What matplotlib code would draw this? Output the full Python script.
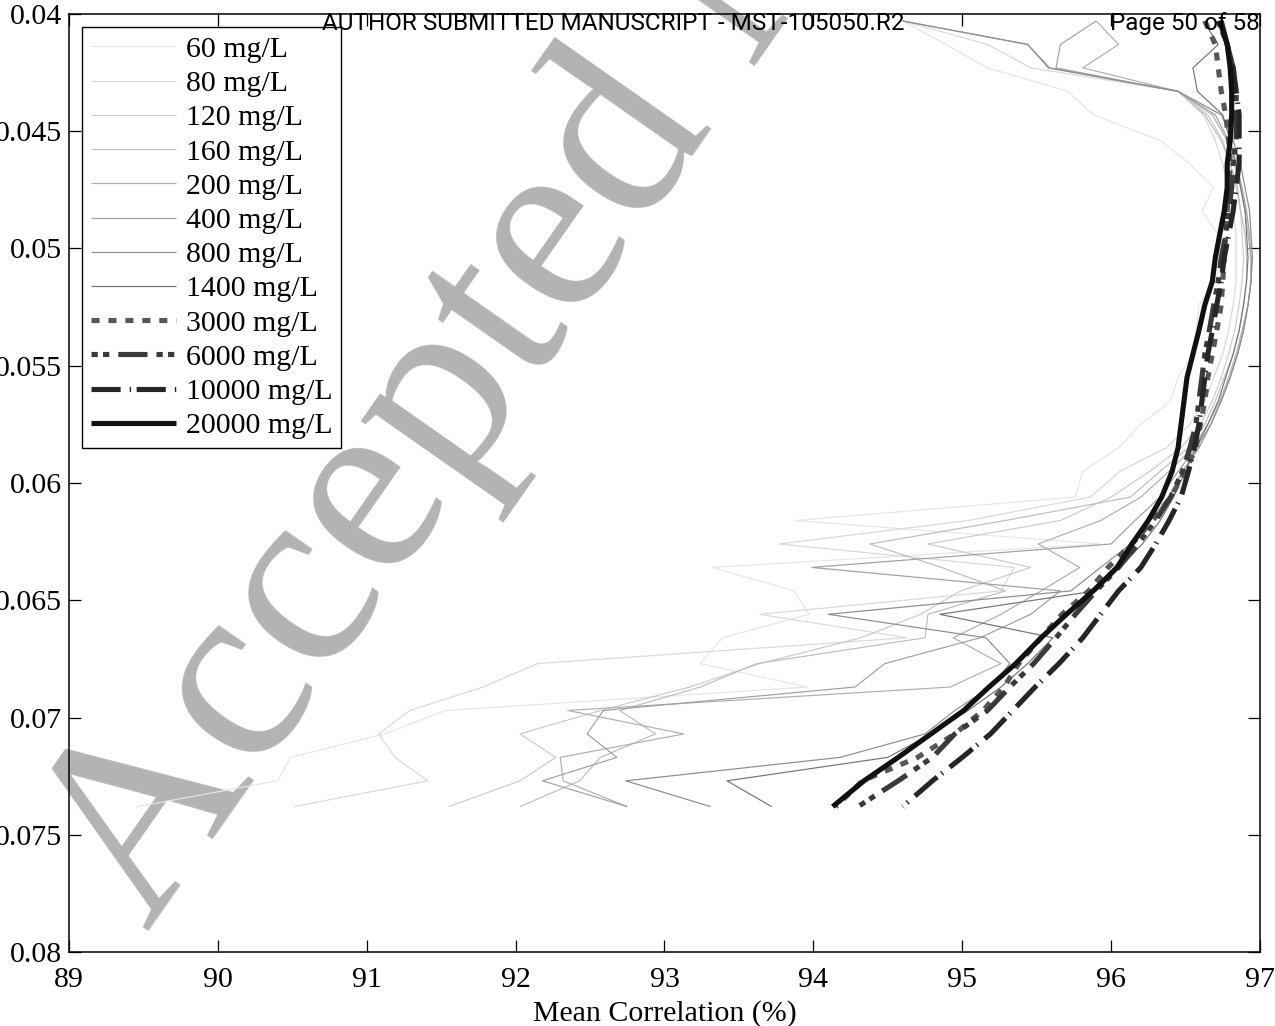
import matplotlib
matplotlib.use("Agg")
import matplotlib.pyplot as plt
from matplotlib.ticker import FuncFormatter

plt.rcParams['lines.scale_dashes'] = False
SERIF = ['Liberation Serif', 'DejaVu Serif']
SANS = ['Liberation Sans Narrow', 'Roboto', 'DejaVu Sans']
FS = 21.5

# threshold level (y) shared by every curve
threshold = [0.0403, 0.0413, 0.0423, 0.0433, 0.0443, 0.0454, 0.0464, 0.0474,
             0.0484, 0.0494, 0.0504, 0.0514, 0.0524, 0.0535, 0.0545, 0.0555,
             0.0565, 0.0575, 0.0585, 0.0595, 0.0606, 0.0616, 0.0626, 0.0636,
             0.0646, 0.0656, 0.0666, 0.0677, 0.0687, 0.0697, 0.0707, 0.0717,
             0.0727, 0.0738]

labels = ['60 mg/L', '80 mg/L', '120 mg/L', '160 mg/L', '200 mg/L', '400 mg/L',
          '800 mg/L', '1400 mg/L', '3000 mg/L', '6000 mg/L', '10000 mg/L',
          '20000 mg/L']

# mean correlation (%) for each concentration
c60 = [94.60, 94.89, 95.17, 95.71, 95.88, 96.33, 96.53, 96.69, 96.61, 96.72, 96.74,
       96.70, 96.59, 96.57, 96.55, 96.45, 96.40, 96.20, 96.05, 95.81, 95.76, 93.88,
       95.93, 93.32, 93.87, 93.97, 93.39, 93.24, 93.96, 91.53, 91.12, 90.49, 90.40,
       89.46]
c80 = [94.60, 95.17, 95.46, 96.45, 96.62, 96.70, 96.75, 96.79, 96.82, 96.84, 96.84,
       96.84, 96.82, 96.79, 96.75, 96.69, 96.63, 96.53, 96.37, 96.06, 95.86, 95.04,
       93.77, 95.35, 95.26, 93.64, 94.63, 92.15, 91.78, 91.29, 91.08, 91.19, 91.41,
       90.51]
c120 = [94.60, 95.44, 95.58, 96.45, 96.65, 96.75, 96.80, 96.84, 96.87, 96.88, 96.89,
        96.88, 96.86, 96.83, 96.79, 96.74, 96.68, 96.60, 96.47, 96.26, 96.00, 95.66,
        94.77, 95.46, 94.99, 94.72, 94.32, 93.64, 93.17, 92.57, 92.03, 92.27, 92.03,
        91.55]
c160 = [94.60, 95.44, 95.59, 96.45, 96.63, 96.74, 96.80, 96.85, 96.87, 96.90, 96.91,
        96.91, 96.89, 96.86, 96.82, 96.76, 96.70, 96.63, 96.52, 96.33, 96.13, 95.29,
        94.38, 94.86, 95.29, 94.77, 94.75, 93.62, 93.24, 92.70, 92.94, 92.57, 92.43,
        92.03]
c200 = [95.90, 96.05, 95.81, 96.45, 96.68, 96.78, 96.83, 96.87, 96.90, 96.92, 96.94,
        96.94, 96.92, 96.88, 96.84, 96.79, 96.73, 96.65, 96.55, 96.39, 96.20, 95.93,
        95.51, 95.79, 95.53, 95.26, 94.94, 95.26, 94.92, 92.35, 93.13, 92.30, 92.32,
        92.75]
c400 = [95.90, 95.66, 95.63, 96.45, 96.70, 96.79, 96.84, 96.88, 96.91, 96.93, 96.94,
        96.94, 96.92, 96.89, 96.85, 96.80, 96.74, 96.67, 96.57, 96.45, 96.33, 96.16,
        96.00, 93.99, 95.66, 95.46, 95.12, 94.48, 94.28, 92.59, 92.48, 92.68, 92.18,
        92.75]
c800 = [94.60, 95.44, 95.58, 96.45, 96.74, 96.82, 96.87, 96.90, 96.93, 96.94, 96.95,
        96.94, 96.92, 96.89, 96.85, 96.80, 96.74, 96.67, 96.59, 96.48, 96.39, 96.26,
        96.13, 95.93, 95.73, 94.10, 95.16, 95.32, 95.19, 94.95, 94.75, 94.18, 92.74,
        93.31]
c1400 = [96.62, 96.72, 96.55, 96.58, 96.75, 96.80, 96.84, 96.87, 96.90, 96.91, 96.92,
         96.91, 96.89, 96.86, 96.82, 96.77, 96.72, 96.65, 96.57, 96.50, 96.42, 96.33,
         96.21, 96.06, 95.90, 94.85, 95.61, 95.44, 95.26, 95.04, 94.79, 94.50, 93.42,
         93.72]
c3000 = [96.63, 96.70, 96.72, 96.74, 96.77, 96.79, 96.80, 96.79, 96.78, 96.77, 96.76,
         96.75, 96.74, 96.71, 96.68, 96.65, 96.63, 96.60, 96.57, 96.50, 96.40, 96.28,
         96.14, 95.98, 95.85, 95.67, 95.53, 95.38, 95.28, 95.14, 94.95, 94.70, 94.33,
         94.15]
c6000 = [96.72, 96.78, 96.82, 96.84, 96.84, 96.84, 96.82, 96.81, 96.79, 96.77, 96.74,
         96.72, 96.69, 96.66, 96.63, 96.61, 96.59, 96.57, 96.53, 96.48, 96.40, 96.30,
         96.18, 96.05, 95.90, 95.76, 95.63, 95.48, 95.32, 95.17, 94.95, 94.80, 94.57,
         94.30]
c10000 = [96.74, 96.78, 96.82, 96.84, 96.86, 96.86, 96.86, 96.84, 96.82, 96.79, 96.76,
          96.74, 96.71, 96.68, 96.65, 96.63, 96.61, 96.59, 96.56, 96.52, 96.47, 96.39,
          96.30, 96.20, 96.05, 95.93, 95.81, 95.65, 95.49, 95.34, 95.19, 95.00, 94.80,
          94.60]
c20000 = [96.73, 96.78, 96.80, 96.81, 96.81, 96.80, 96.78, 96.78, 96.76, 96.73, 96.70,
          96.68, 96.63, 96.59, 96.55, 96.51, 96.49, 96.47, 96.45, 96.41, 96.34, 96.25,
          96.14, 96.04, 95.88, 95.70, 95.53, 95.36, 95.18, 95.01, 94.79, 94.57, 94.34,
          94.13]

curves = [c60, c80, c120, c160, c200, c400, c800, c1400, c3000, c6000, c10000, c20000]

x_ticks = [89, 90, 91, 92, 93, 94, 95, 96, 97]
y_ticks = [0.04, 0.045, 0.05, 0.055, 0.06, 0.065, 0.07, 0.075, 0.08]

# line appearance per concentration: (offset, on/off sequence) in points
thin_colors = ['#e6e6e6', '#d9d9d9', '#cbcbcb', '#bdbdbd', '#afafaf', '#a0a0a0',
               '#8c8c8c', '#747474']
styles = [dict(color=c, lw=0.85) for c in thin_colors] + [
    dict(color='#565656', lw=3.7, ls=(0, (5.8, 6.4))),
    dict(color='#3a3a3a', lw=3.7, ls=(27.5, (21, 6.5, 4.5, 3.8, 4.5, 6.5))),
    dict(color='#262626', lw=3.7, ls=(0, (21, 6.5, 1.0, 4.0))),
    dict(color='#111111', lw=3.7, ls='-'),
]

fig = plt.figure(figsize=(12.75, 10.26), dpi=100)
ax = fig.add_axes([0.0541, 0.0721, 0.9341, 0.9143])

for xs, lab, st in zip(curves, labels, styles):
    ax.plot(xs, threshold, label=lab, solid_capstyle='butt',
            dash_capstyle='butt', solid_joinstyle='round', **st)

ax.set_xlim(89, 97)
ax.set_ylim(0.08, 0.04)
ax.set_xticks(x_ticks)
ax.set_yticks(y_ticks)
ax.yaxis.set_major_formatter(FuncFormatter(lambda v, p: '%g' % v))
ax.tick_params(direction='in', length=8.5, width=0.9, top=True, right=True,
               labelsize=FS)
ax.tick_params(axis='x', pad=11)
ax.tick_params(axis='y', pad=5)
for lab in ax.get_xticklabels() + ax.get_yticklabels():
    lab.set_fontfamily(SERIF)
for sp in ax.spines.values():
    sp.set_linewidth(1.1)
ax.set_xlabel('Mean Correlation (%)', fontsize=FS, family=SERIF, labelpad=5)

leg = ax.legend(loc='upper left', bbox_to_anchor=(0.0109, 0.986),
                prop=dict(family=SERIF, size=FS), frameon=True, fancybox=False,
                edgecolor='black', framealpha=1, handlelength=2.85,
                handletextpad=0.33, labelspacing=0.245, borderpad=0.3,
                borderaxespad=0.0)
leg.get_frame().set_linewidth(1.0)
leg.set_zorder(5)

# publisher stamp
ax.text(0.1161, 0.0906, 'Accepted Manuscript', transform=fig.transFigure,
        rotation=55, rotation_mode='anchor', ha='left', va='baseline',
        fontsize=188, family=SERIF, color='#b3b3b3', zorder=1, clip_on=False)
fig.text(0.4808, 0.9705, 'AUTHOR SUBMITTED MANUSCRIPT - MST-105050.R2',
         ha='center', va='baseline', fontsize=17.5, family=SANS,
         color='black', zorder=10)
fig.text(0.9882, 0.9705, 'Page 50 of 58', ha='right', va='baseline', fontsize=17.5,
         family=SANS, color='black', zorder=10)

fig.savefig('out.png', dpi=100)
